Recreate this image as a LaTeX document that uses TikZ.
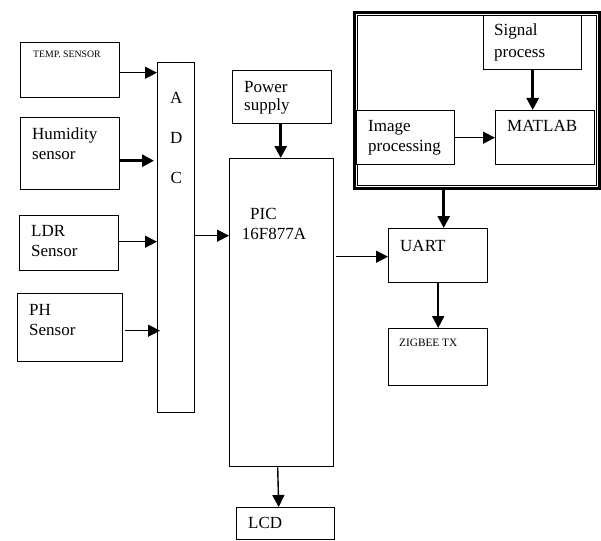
\documentclass[tikz,border=0pt]{standalone}
\usepackage{fontspec}
\setmainfont{Liberation Serif}
\usetikzlibrary{arrows.meta}

\begin{document}
\begin{tikzpicture}[x=1pt, y=-1pt,
  block/.style={draw, line width=1.4pt, anchor=north west, inner sep=0pt},
  txt/.style={anchor=north west, inner sep=0pt, align=left, font=\fontsize{17}{20}\selectfont},
  smalltxt/.style={txt, font=\fontsize{9.8}{12}\selectfont},
  arr/.style={line width=1.4pt, -{Triangle[length=12pt, width=12pt]}},
  thickarr/.style={arr, line width=2.8pt}]

  \useasboundingbox (0,0) rectangle (601,540);

  % Sensors
  \node[block, minimum width=99pt, minimum height=55pt] (temp) at (20,42) {};
  \node[block, minimum width=99pt, minimum height=72pt] (hum) at (20,117) {};
  \node[block, minimum width=99pt, minimum height=55pt] (ldr) at (19,215) {};
  \node[block, minimum width=105pt, minimum height=68pt] (ph) at (17,293) {};
  \node[smalltxt] (temptxt) at ([shift={(13,8.5)}]temp.north west) {TEMP. SENSOR};
  \node[txt] (humtxt) at ([shift={(12,10.4)}]hum.north west) {Humidity\\sensor};
  \node[txt] (ldrtxt) at ([shift={(12,10.5)}]ldr.north west) {LDR\\Sensor};
  \node[txt] (phtxt) at ([shift={(12,10.8)}]ph.north west) {PH\\Sensor};

  % ADC
  \node[block, minimum width=37pt, minimum height=350pt] (adc) at (157,62) {};
  \node[txt, anchor=north, align=center, font=\fontsize{17}{40}\selectfont] (adctxt) at ([yshift=-30pt]adc.north) {A\\D\\C};

  % Controller
  \node[block, minimum width=99pt, minimum height=53pt] (power) at (232,70) {};
  \node[block, minimum width=104pt, minimum height=308pt] (pic) at (229,158) {};
  \node[block, minimum width=98pt, minimum height=32pt] (lcd) at (236,507) {};
  \node[txt, font=\fontsize{17}{18}\selectfont] (powertxt) at ([shift={(12,10.8)}]power.north west) {Power\\supply};
  \node[txt] (pictxt) at ([shift={(12.7,49.8)}]pic.north west) {\hspace*{8.3pt}PIC\\16F877A};
  \node[txt] (lcdtxt) at ([shift={(12,10)}]lcd.north west) {LCD};

  % Transmitter
  \node[block, minimum width=99pt, minimum height=54pt] (uart) at (388,228) {};
  \node[block, minimum width=99pt, minimum height=57pt] (zigbee) at (388,328) {};
  \node[txt] (uarttxt) at ([shift={(12,11.8)}]uart.north west) {UART};
  \node[smalltxt, font=\fontsize{11.3}{13}\selectfont] (zigbeetxt) at ([shift={(11,10.5)}]zigbee.north west) {ZIGBEE TX};

  % Processing frame (thick outer line, thin inner line)
  \node[block, line width=3.2pt, minimum width=245pt, minimum height=176pt] (frame) at (353,11) {};
  \draw[line width=0.8pt] ([shift={(4.5,4.5)}]frame.north west) rectangle ([shift={(-4.5,-4.5)}]frame.south east);
  \node[block, fill=white, minimum width=98pt, minimum height=54pt] (signal) at (483,15) {};
  \node[block, fill=white, minimum width=98pt, minimum height=54pt] (image) at (356,110) {};
  \node[block, fill=white, minimum width=99pt, minimum height=54pt] (matlab) at (495,110) {};
  \node[txt, font=\fontsize{17}{22}\selectfont] (signaltxt) at ([shift={(11,8.5)}]signal.north west) {Signal\\process};
  \node[txt] (imagetxt) at ([shift={(12,10.5)}]image.north west) {Image\\processing};
  \node[txt] (matlabtxt) at ([shift={(12,9.8)}]matlab.north west) {MATLAB};

  % Connectors
  \draw[arr] ([yshift=-2.5pt]temp.east) -- ([yshift=-2.5pt]temp.east -| adc.west);
  \draw[thickarr, shorten >=3pt] ([yshift=-7pt]hum.east) -- ([yshift=-7pt]hum.east -| adc.west);
  \draw[arr] ([yshift=1.5pt]ldr.east) -- ([yshift=1.5pt]ldr.east -| adc.west);
  \draw[arr, shorten <=2pt, shorten >=-3pt] ([yshift=-3pt]ph.east) -- ([yshift=-3pt]ph.east -| adc.west);
  \draw[arr] ([yshift=2pt]adc.east) -- ([yshift=2pt]adc.east -| pic.west);
  \draw[thickarr] ([xshift=-1.5pt]power.south) -- ([xshift=-1.5pt]power.south |- pic.north);
  \draw[arr, shorten <=2pt] ([yshift=-1pt]uart.west -| pic.east) -- ([yshift=-1pt]uart.west);
  \draw[arr] ([xshift=-4pt]pic.south) -- ([xshift=-7pt]lcd.north);
  \draw[thickarr] ([xshift=5.5pt]uart.north |- frame.south) -- ([xshift=5.5pt]uart.north);
  \draw[arr, line width=2pt] (uart.south) -- (zigbee.north);
  \draw[thickarr] (signal.south) -- (signal.south |- matlab.north);
  \draw[arr] (image.east) -- (matlab.west);

\end{tikzpicture}
\end{document}
